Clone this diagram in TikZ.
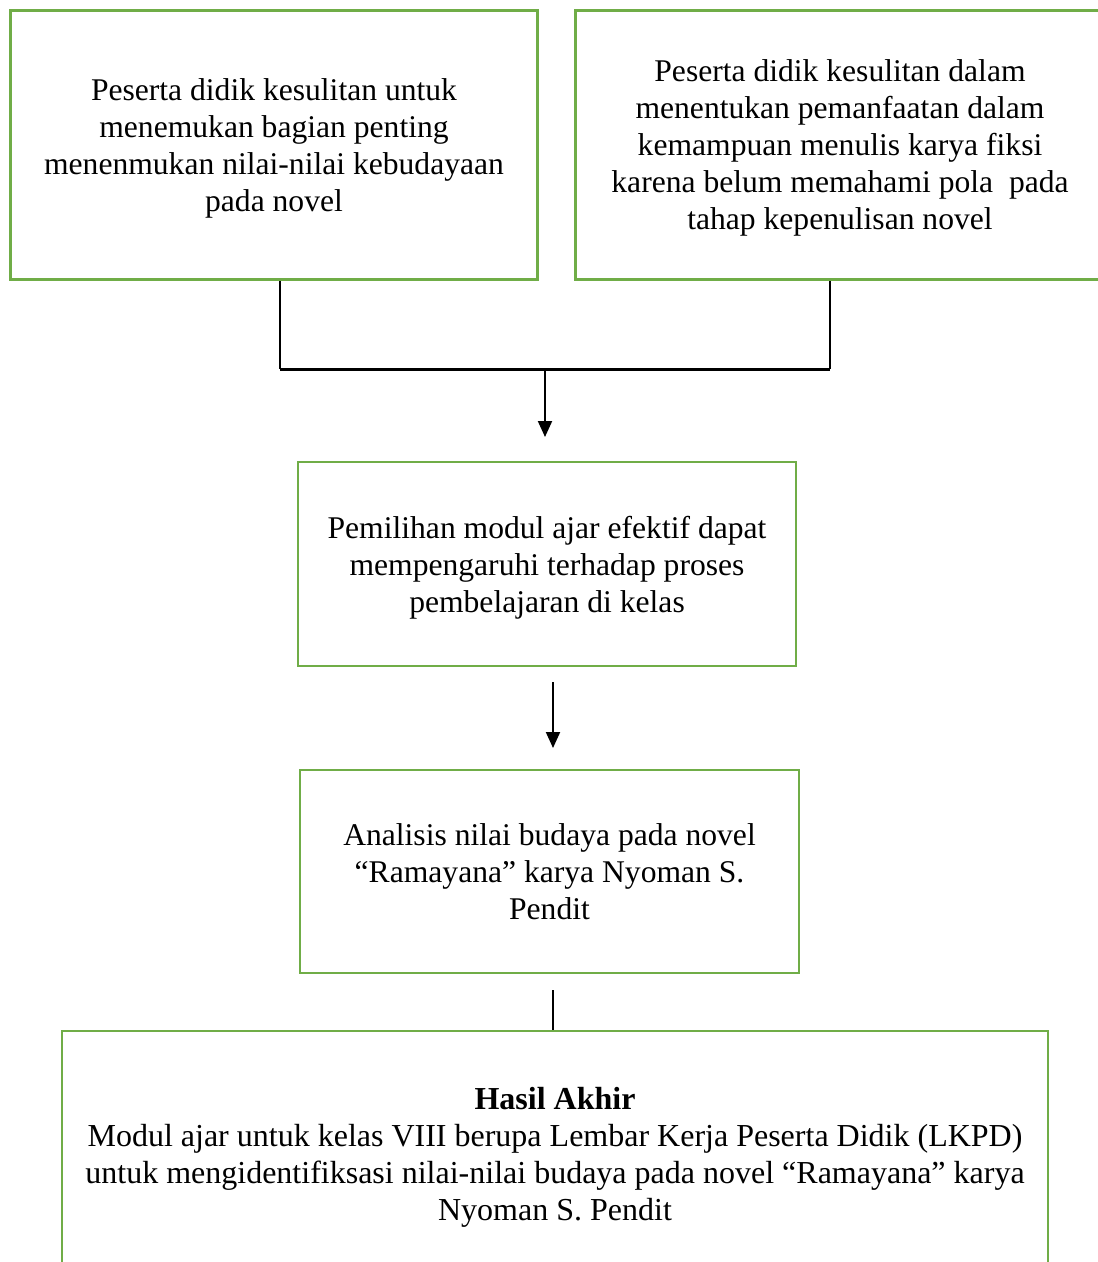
\documentclass[tikz,border=0pt]{standalone}
\usepackage{fontspec}
\setmainfont{Liberation Serif}
\usetikzlibrary{arrows.meta}
\definecolor{boxgreen}{HTML}{70AD47}

\begin{document}
\begin{tikzpicture}[x=0.5pt,y=-0.5pt,>={Triangle[width=7pt,length=8pt]},
  font=\fontsize{15.8}{18.5}\selectfont,
  box/.style={rectangle,draw=boxgreen,line width=1.5pt,align=center,inner sep=0pt,text depth=0pt},
  thin box/.style={box,line width=1pt},
  link/.style={line width=1pt},
  bar/.style={line width=1.5pt}]
  \useasboundingbox (0,0) rectangle (1097,1262);
  % two problems on top
  \node[box,minimum width=263.5pt,minimum height=134.5pt] (prob1) at (274,145)
    {Peserta didik kesulitan untuk\\menemukan bagian penting\\menenmukan nilai-nilai kebudayaan\\pada novel};
  \node[box,minimum width=264.5pt,minimum height=134.5pt] (prob2) at (840,145)
    {Peserta didik kesulitan dalam\\menentukan pemanfaatan dalam\\kemampuan menulis karya fiksi\\karena belum memahami pola~ pada\\tahap kepenulisan novel};
  % middle steps
  \node[thin box,minimum width=249pt,minimum height=102pt] (choice) at (547,564)
    {Pemilihan modul ajar efektif dapat\\mempengaruhi terhadap proses\\pembelajaran di kelas};
  \node[thin box,minimum width=249.5pt,minimum height=101.5pt] (analysis) at (549.5,871.5)
    {Analisis nilai budaya pada novel\\“Ramayana” karya Nyoman S.\\Pendit};
  \node[thin box,minimum width=493pt,minimum height=123pt,font=\fontsize{16}{18.5}\selectfont] (result) at (555,1154)
    {\textbf{Hasil Akhir}\\Modul ajar untuk kelas VIII berupa Lembar Kerja Peserta Didik (LKPD)\\untuk mengidentifiksasi nilai-nilai budaya pada novel “Ramayana” karya\\Nyoman S. Pendit};
  % connectors
  \coordinate (leftknee) at (280,369);
  \coordinate (rightknee) at (830,369);
  \coordinate (join) at (545,369);
  \coordinate (tip1) at (545,437);
  \coordinate (tail2) at (553,682);
  \coordinate (tip2) at (553,748);
  \coordinate (tail3) at (553,990);
  \draw[link] (prob1.south -| leftknee) -- (leftknee);
  \draw[link] (prob2.south -| rightknee) -- (rightknee);
  \draw[bar] (leftknee) -- (rightknee);
  \draw[link,->] (join) -- (tip1);
  \draw[link,->] (tail2) -- (tip2);
  \draw[link] (tail3) -- (tail3 |- result.north);
\end{tikzpicture}
\end{document}
